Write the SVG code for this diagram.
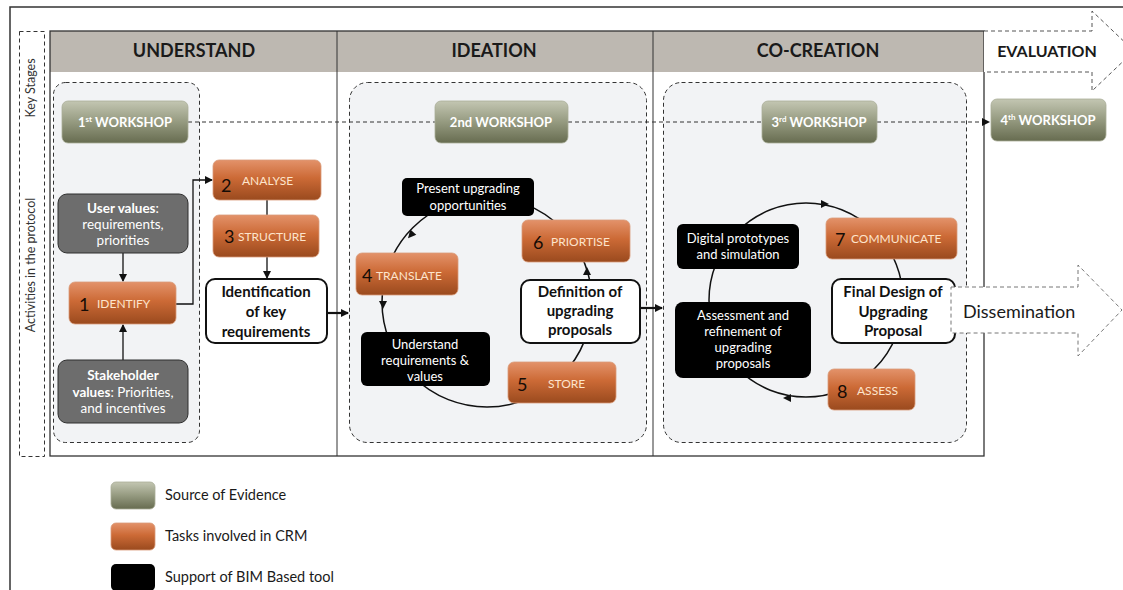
<svg xmlns="http://www.w3.org/2000/svg" width="1123" height="590" viewBox="0 0 1123 590">
<defs>
<linearGradient id="gGreen" x1="0" y1="0" x2="0" y2="1"><stop offset="0" stop-color="#c3c6b2"/><stop offset="0.5" stop-color="#959a80"/><stop offset="1" stop-color="#676c50"/></linearGradient>
<linearGradient id="gOrange" x1="0" y1="0" x2="0" y2="1"><stop offset="0" stop-color="#e3926a"/><stop offset="0.45" stop-color="#cc6a36"/><stop offset="1" stop-color="#9a4a1e"/></linearGradient>
<marker id="ah" markerWidth="8" markerHeight="8" refX="7" refY="4" orient="auto" markerUnits="userSpaceOnUse"><path d="M0,0 L8,4 L0,8 Z" fill="#111"/></marker>
<path id="tri" d="M3,0 L-5,-4 L-5,4 Z" fill="#111"/>
<style>
.t{font-family:Lato,"Open Sans","Liberation Sans",sans-serif}
.hdr{font-size:18px;font-weight:bold;fill:#1a1a1a;text-anchor:middle}
.ws{font-size:13px;font-weight:bold;fill:#fff;text-anchor:middle}
.gb{fill:url(#gGreen);stroke:#a9ad98;stroke-width:0.8}
.ob{fill:url(#gOrange);stroke:#d99a78;stroke-width:0.8}
.num{font-size:18px;fill:#150c06}
.ol{font-size:12px;fill:#fde4cc}
.gray{fill:#6d6d6d;stroke:#2f2f2f;stroke-width:1}
.gt{font-size:13.5px;fill:#fff;text-anchor:middle}
.blk{fill:#000}
.bt{font-size:13px;fill:#fff;text-anchor:middle}
.wb{fill:#fff;stroke:#111;stroke-width:2}
.wt{font-size:15px;font-weight:bold;fill:#111;text-anchor:middle}
.pnl{fill:#f2f3f5;stroke:#333;stroke-width:1;stroke-dasharray:4 3}
.ln{fill:none;stroke:#111;stroke-width:1.3}
.dl{fill:none;stroke:#333;stroke-width:1;stroke-dasharray:4 3}
.lg{font-size:14.5px;fill:#1a1a1a}
</style>
</defs>
<rect width="1123" height="590" fill="#fff"/>
<path d="M10,590 V7 H1123" fill="none" stroke="#333" stroke-width="1.5"/>

<g id="side-labels">
<rect x="19.5" y="31.5" width="25" height="425" fill="none" stroke="#333" stroke-dasharray="4 3"/>
<text class="t" x="32" y="88" transform="rotate(-90 32 88)" font-size="12.5" fill="#333" text-anchor="middle" dominant-baseline="middle">Key Stages</text>
<text class="t" x="32" y="265" transform="rotate(-90 32 265)" font-size="12.5" fill="#333" text-anchor="middle" dominant-baseline="middle">Activities in the protocol</text>
</g>

<g id="table">
<rect x="50" y="31" width="934" height="41" fill="#bdb8b1"/>
<rect x="50" y="31" width="934" height="425" fill="none" stroke="#333" stroke-width="1.3"/>
<line x1="337" y1="31" x2="337" y2="456" stroke="#333" stroke-width="1"/>
<line x1="653" y1="31" x2="653" y2="456" stroke="#333" stroke-width="1"/>
<text class="t hdr" x="194" y="57">UNDERSTAND</text>
<text class="t hdr" x="494" y="57">IDEATION</text>
<text class="t hdr" x="818" y="57">CO-CREATION</text>
</g>

<g id="evaluation">
<path d="M984,31 H1092 V11 L1134,51 L1092,91 V72 H984" fill="#fff" stroke="#555" stroke-width="1" stroke-dasharray="4 3"/>
<text class="t" x="1047" y="57" font-size="16" font-weight="bold" fill="#1a1a1a" text-anchor="middle">EVALUATION</text>
</g>

<g id="panels">
<rect class="pnl" x="53.5" y="82.5" width="146" height="360" rx="12"/>
<rect class="pnl" x="349.5" y="82.5" width="297" height="360" rx="18"/>
<rect class="pnl" x="663.5" y="82.5" width="303" height="360" rx="18"/>
</g>

<g id="connectors">
<path class="dl" d="M188,122 H435"/>
<path class="dl" d="M568,122 H762"/>
<path class="dl" d="M877,122 H989" marker-end="url(#ah)"/>
<path class="ln" d="M123,253 V281" marker-end="url(#ah)"/>
<path class="ln" d="M123,360 V325" marker-end="url(#ah)"/>
<path class="ln" d="M176,304 H193 V180 H212" marker-end="url(#ah)"/>
<path class="ln" d="M267,200 V215"/>
<path class="ln" d="M267,257 V278" marker-end="url(#ah)"/>
<path d="M327,313 H348" fill="none" stroke="#111" stroke-width="2.2" marker-end="url(#ah)"/>
<path d="M640,308 H662" fill="none" stroke="#111" stroke-width="2.2" marker-end="url(#ah)"/>
<circle cx="487" cy="302" r="105" fill="none" stroke="#111" stroke-width="1.5"/>
<circle cx="806" cy="300" r="97" fill="none" stroke="#111" stroke-width="1.5"/>
<use href="#tri" transform="translate(410,236) rotate(131)"/>
<use href="#tri" transform="translate(383,306) rotate(90)"/>
<use href="#tri" transform="translate(587,270) rotate(-90)"/>
<use href="#tri" transform="translate(826,204) rotate(0)"/>
<use href="#tri" transform="translate(786,398) rotate(180)"/>
</g>

<g id="ws1"><rect class="gb" x="62" y="101" width="126" height="42" rx="6"/><text class="t ws" x="125" y="127">1<tspan font-size="8" dy="-5">st</tspan><tspan dy="5"> WORKSHOP</tspan></text></g>
<g id="ws2"><rect class="gb" x="435" y="101" width="133" height="42" rx="6"/><text class="t ws" x="501" y="127">2nd WORKSHOP</text></g>
<g id="ws3"><rect class="gb" x="762" y="101" width="115" height="42" rx="6"/><text class="t ws" x="819" y="127">3<tspan font-size="8" dy="-5">rd</tspan><tspan dy="5"> WORKSHOP</tspan></text></g>
<g id="ws4"><rect class="gb" x="991" y="99" width="115" height="42" rx="6"/><text class="t ws" x="1048" y="125">4<tspan font-size="8" dy="-5">th</tspan><tspan dy="5">  WORKSHOP</tspan></text></g>

<g id="user-values"><rect class="gray" x="58" y="194" width="130" height="59" rx="9"/>
<text class="t gt" x="123" y="213"><tspan font-weight="bold">User values</tspan>:</text>
<text class="t gt" x="123" y="229">requirements,</text>
<text class="t gt" x="123" y="245">priorities</text></g>
<g id="stakeholder"><rect class="gray" x="58" y="360" width="130" height="63" rx="9"/>
<text class="t gt" x="123" y="380" font-weight="bold">Stakeholder</text>
<text class="t gt" x="123" y="397"><tspan font-weight="bold">values</tspan>: Priorities,</text>
<text class="t gt" x="123" y="413">and incentives</text></g>

<g id="identify"><rect class="ob" x="69" y="282" width="107" height="42" rx="6"/><text class="t num" x="79" y="311">1</text><text class="t ol" x="97" y="308">IDENTIFY</text></g>
<g id="analyse"><rect class="ob" x="213" y="160" width="108" height="40" rx="6"/><text class="t num" x="221" y="192">2</text><text class="t ol" x="242" y="185">ANALYSE</text></g>
<g id="structure"><rect class="ob" x="213" y="215" width="106" height="42" rx="6"/><text class="t num" x="224" y="243">3</text><text class="t ol" x="238" y="241">STRUCTURE</text></g>
<g id="identification"><rect class="wb" x="206" y="279" width="121" height="64" rx="9"/>
<text class="t wt" x="266" y="297">Identification</text><text class="t wt" x="266" y="317">of key</text><text class="t wt" x="266" y="337">requirements</text></g>

<g id="present"><rect class="blk" x="402" y="178" width="132" height="38" rx="5"/><text class="t bt" x="468" y="193">Present upgrading</text><text class="t bt" x="468" y="210">opportunities</text></g>
<g id="priortise"><rect class="ob" x="522" y="220" width="108" height="42" rx="6"/><text class="t num" x="533" y="249">6</text><text class="t ol" x="551" y="246">PRIORTISE</text></g>
<g id="translate"><rect class="ob" x="356" y="253" width="102" height="42" rx="6"/><text class="t num" x="362" y="282">4</text><text class="t ol" x="376" y="280">TRANSLATE</text></g>
<g id="definition"><rect class="wb" x="521" y="280" width="119" height="63" rx="9"/>
<text class="t wt" x="580" y="297">Definition of</text><text class="t wt" x="580" y="316">upgrading</text><text class="t wt" x="580" y="335">proposals</text></g>
<g id="understand"><rect class="blk" x="361" y="332" width="129" height="54" rx="6"/>
<text class="t bt" x="425" y="349">Understand</text><text class="t bt" x="425" y="365">requirements  &amp;</text><text class="t bt" x="425" y="381">values</text></g>
<g id="store"><rect class="ob" x="508" y="362" width="108" height="41" rx="6"/><text class="t num" x="517" y="391">5</text><text class="t ol" x="548" y="388">STORE</text></g>

<g id="digital"><rect class="blk" x="677" y="224" width="122" height="45" rx="6"/><text class="t bt" x="738" y="243">Digital prototypes</text><text class="t bt" x="738" y="259">and simulation</text></g>
<g id="communicate"><rect class="ob" x="826" y="218" width="131" height="41" rx="6"/><text class="t num" x="835" y="246">7</text><text class="t ol" x="851" y="243">COMMUNICATE</text></g>
<g id="assessment"><rect class="blk" x="675" y="302" width="136" height="76" rx="8"/>
<text class="t bt" x="743" y="320">Assessment and</text><text class="t bt" x="743" y="336">refinement  of</text><text class="t bt" x="743" y="352">upgrading</text><text class="t bt" x="743" y="368">proposals</text></g>
<g id="assess"><rect class="ob" x="828" y="369" width="87" height="41" rx="6"/><text class="t num" x="837" y="398">8</text><text class="t ol" x="857" y="395">ASSESS</text></g>

<g id="final"><rect class="wb" x="832" y="279" width="123" height="64" rx="9"/>
<text class="t wt" x="893" y="297" font-size="14">Final Design of</text><text class="t wt" x="893" y="317" font-size="14">Upgrading</text><text class="t wt" x="893" y="336" font-size="14">Proposal</text></g>

<g id="dissemination">
<path d="M951,287 H1078 V265 L1122,310 L1078,356 V333 H951 Z" fill="#fff" stroke="#777" stroke-width="1" stroke-dasharray="4 3"/>
<text class="t" x="963" y="318" font-size="18" fill="#1a1a1a">Dissemination</text>
</g>

<g id="legend">
<rect class="gb" x="111" y="482" width="44" height="27" rx="5"/><text class="t lg" x="165" y="500">Source of Evidence</text>
<rect class="ob" x="111" y="523" width="44" height="27" rx="5"/><text class="t lg" x="165" y="541">Tasks involved in CRM</text>
<rect x="111" y="564" width="44" height="27" rx="5" fill="#000"/><text class="t lg" x="165" y="582">Support of BIM Based tool</text>
</g>
</svg>
